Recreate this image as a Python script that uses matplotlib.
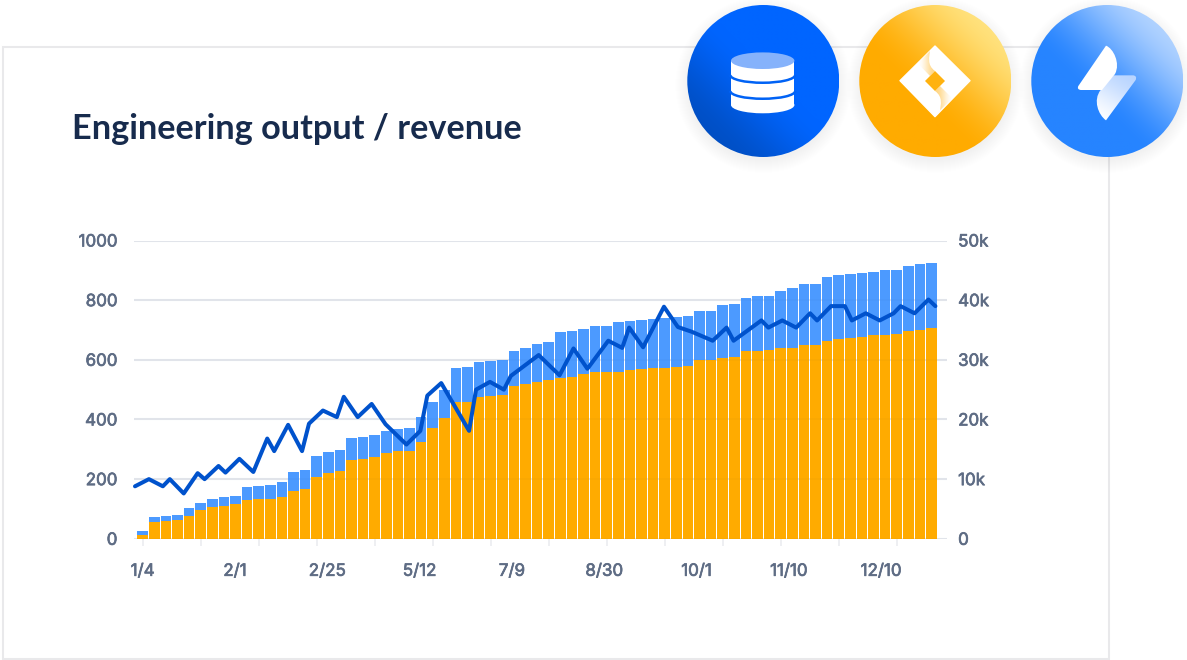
import numpy as np
import matplotlib
matplotlib.use('Agg')
import matplotlib.pyplot as plt
import matplotlib.patheffects as pe
from matplotlib.patches import Circle, Ellipse, Arc, PathPatch, Polygon, Rectangle
from matplotlib.path import Path
from matplotlib.colors import to_rgb

# Bars, one per week: orange part and top of the stack
orange_values = [13, 56, 60, 64, 77, 95, 108, 111, 115, 129, 133, 135, 140, 160, 167, 208, 222, 227, 265, 268,
                 273, 289, 293, 294, 323, 370, 406, 459, 459, 476, 480, 481, 511, 519, 526, 532, 540, 544, 553, 558,
                 560, 560, 565, 568, 571, 574, 577, 578, 598, 599, 606, 610, 628, 631, 632, 641, 641, 649, 651, 662,
                 669, 672, 676, 682, 684, 687, 695, 701, 706]
total_values = [25, 72, 78, 81, 103, 120, 135, 140, 144, 175, 178, 181, 190, 225, 231, 278, 292, 299, 339, 342,
                348, 362, 368, 372, 409, 457, 500, 571, 577, 594, 597, 601, 630, 639, 654, 660, 692, 695, 703, 712,
                715, 728, 730, 733, 737, 739, 743, 746, 763, 765, 783, 786, 807, 813, 815, 832, 841, 853, 854, 877,
                885, 889, 892, 895, 900, 902, 914, 920, 923]

# Revenue line (right axis, in k)
line_steps = [0, 2, 4, 5, 7, 9, 10, 12, 13, 15, 17, 19, 20, 22, 24, 25, 27, 29, 30, 32, 34, 36, 39, 41, 42, 44,
              48, 49, 51, 53, 54, 58, 61, 63, 65, 68, 70, 71, 73, 76, 78, 80, 83, 85, 86, 90, 91, 93, 95, 97, 98,
              100, 102, 103, 105, 107, 109, 110, 112, 114, 115]
revenue_values = [8.8, 10.0, 8.8, 10.0, 7.6, 11.0, 10.0, 12.2, 11.1, 13.4, 11.2, 16.8, 14.7, 19.1, 14.7, 19.3,
                  21.5, 20.4, 23.8, 20.4, 22.6, 19.2, 15.8, 18.1, 24.0, 26.1,
                  18.1, 25.0, 26.3, 25.0, 27.3, 30.8, 27.4, 31.9, 28.5, 33.2, 32.0, 35.4, 32.1, 38.9, 35.5, 34.7,
                  33.2, 35.4, 33.2, 36.6, 35.4, 36.6, 35.4, 37.8, 36.6, 39.0, 39.0, 36.6, 37.8, 36.6, 37.8, 39.0,
                  37.8, 40.1, 39.0]

date_labels = ['1/4', '2/1', '2/25', '5/12', '7/9', '8/30', '10/1', '11/10', '12/10']
left_ticks = [0, 200, 400, 600, 800, 1000]
right_ticks = [0, 10, 20, 30, 40, 50]
right_labels = ['0', '10k', '20k', '30k', '40k', '50k']

W, H = 1187, 660
NAVY = '#172B4D'
GREY = '#5E6C84'

fig = plt.figure(figsize=(W / 100, H / 100), dpi=100, facecolor='white')

# Card behind the chart, drawn in pixel coordinates
back = fig.add_axes([0, 0, 1, 1], zorder=0)
back.set_xlim(0, W)
back.set_ylim(H, 0)
back.axis('off')
back.add_patch(Rectangle((2.7, 46.7), 1106.6, 612, fill=False, ec='#E9E9EB', lw=1.5))
back.text(72.5, 129, 'Engineering output / revenue', family='Lato', weight='bold', fontsize=24.7,
          color=NAVY, va='center', ha='left')

# Chart
L, R, T, B = 134, 947, 240.5, 538.8
ax = fig.add_axes([L / W, 1 - B / H, (R - L) / W, (B - T) / H], zorder=1)
ax.patch.set_alpha(0)
step_px = 6.96
first_x = (142.7 - 135) / step_px
bar_x = first_x + np.arange(len(orange_values)) * 5 / 3
# the date labels do not sit on the bars, they run on their own spacing
label_x = first_x + np.arange(len(date_labels)) * 92.3 / step_px
orange = np.array(orange_values)
total = np.array(total_values)
ax.bar(bar_x, orange, width=1.53, color='#FFAB00', linewidth=0)
ax.bar(bar_x, total - orange, bottom=orange, width=1.53, color='#4C9AFF', linewidth=0)
ax.set_xlim((L - 135) / step_px, (R - 135) / step_px)
ax.set_ylim(0, 1000)
ax.set_yticks(left_ticks)
ax.grid(axis='y', color='#E6E8EE', lw=1.5)
ax.set_axisbelow(True)
ax.hlines(left_ticks, *ax.get_xlim(), color='#091E42', alpha=0.02, lw=1.5, zorder=3)
ax.tick_params(axis='y', length=0, pad=12, labelsize=12.2, labelcolor=GREY, labelfontfamily='Inter')

ax.xaxis.remove_overlapping_locs = False
ax.set_xticks(bar_x[::5])
ax.set_xticklabels([])
ax.set_xticks(label_x, labels=date_labels, minor=True)
ax.tick_params(axis='x', which='major', length=5, width=1.2, color='#EBECF0')
ax.tick_params(axis='x', which='minor', length=0, pad=18, labelsize=12.2, labelcolor=GREY, labelfontfamily='Inter')
for s in ax.spines.values():
    s.set_visible(False)

ax2 = ax.twinx()
ax2.patch.set_alpha(0)
ax2.plot(line_steps, revenue_values, color='#0052CC', lw=2.9, solid_joinstyle='round', solid_capstyle='round',
         clip_on=False)
ax2.set_ylim(0, 50)
ax2.set_yticks(right_ticks, labels=right_labels)
ax2.tick_params(axis='y', length=0, pad=8, labelsize=12.2, labelcolor=GREY, labelfontfamily='Inter')
for s in ax2.spines.values():
    s.set_visible(False)

# tick labels look semibold in the original, Inter only comes in regular here
heavier = [pe.withStroke(linewidth=0.5, foreground=GREY)]
for lab in ax.get_yticklabels() + ax.get_xticklabels(minor=True) + ax2.get_yticklabels():
    lab.set_path_effects(heavier)

# Icons on top, again in pixels
top = fig.add_axes([0, 0, 1, 1], zorder=2)
top.set_xlim(0, W)
top.set_ylim(H, 0)
top.axis('off')
top.patch.set_alpha(0)


def gradient(patch, box, c0, c1, a0=1.0, a1=1.0, angle=45, start=0.0, stop=1.0, zorder=3):
    # linear gradient in box (x0, x1, y0, y1), clipped to patch
    x0, x1, y0, y1 = box
    yy, xx = np.mgrid[0:1:160j, 0:1:160j]
    d = np.array([np.cos(np.radians(angle)), np.sin(np.radians(angle))])
    t = xx * d[0] + (1 - yy) * d[1]
    t = (t - t.min()) / (t.max() - t.min())
    t = np.clip((t - start) / (stop - start), 0, 1)
    t = t * t * (3 - 2 * t)
    rgba = np.zeros((160, 160, 4))
    for i in range(3):
        rgba[..., i] = to_rgb(c0)[i] * (1 - t) + to_rgb(c1)[i] * t
    rgba[..., 3] = a0 * (1 - t) + a1 * t
    patch.set(fc='none', ec='none')
    top.add_patch(patch)
    im = top.imshow(rgba, extent=(x0, x1, y1, y0), zorder=zorder, interpolation='bilinear', aspect='auto')
    im.set_clip_path(patch)


def badge(cx, cy, r, c0, c1, start, stop):
    for k in range(14):
        top.add_patch(Circle((cx, cy + 4), r + 12 - k, fc='#091E42', ec='none', alpha=0.004, zorder=2))
    gradient(Circle((cx, cy), r), (cx - r, cx + r, cy - r, cy + r), c0, c1, start=start, stop=stop)


def z(x, y):
    # position
    return 680 + x / 3, y / 3


def zd(x, y):
    # position
    return 890 + x / 3, 35 + y / 3


R_ICON = 76
c1, c2, c3 = (763.3, 81), (935.3, 81), (1107.3, 81)
badge(*c1, R_ICON, '#004FC4', '#0065FF', 0.12, 0.55)
badge(*c2, R_ICON, '#FFAB00', '#FFE380', 0.38, 0.9)
badge(*c3, R_ICON, '#2684FF', '#B3D4FF', 0.38, 0.9)

# database
cx = 762.7
top.add_patch(Rectangle((cx - 31.7, 60.7), 63.4, 44.5, fc='white', ec='none', zorder=4))
top.add_patch(Ellipse((cx, 105), 63.4, 16.6, fc='white', ec='none', zorder=4))
for yc in (75, 91):
    top.add_patch(Arc((cx, yc), 65, 15.5, theta1=0, theta2=180, ec='#0062F5', lw=1.8, zorder=5))
top.add_patch(Ellipse((cx, 60.7), 63.4, 16.6, fc='#85B2FB', ec='none', zorder=6))

# diamond
top.add_patch(Polygon([zd(135, 33), zd(240, 137), zd(135, 245), zd(30, 137)], closed=True, fc='white', ec='white',
                      lw=1, joinstyle='round', zorder=4))
pts = [zd(120, 48), zd(83, 85), zd(120, 123), zd(135, 108), zd(110, 90), zd(118, 65), zd(120, 48)]
codes = [Path.MOVETO, Path.LINETO, Path.LINETO, Path.LINETO, Path.CURVE4, Path.CURVE4, Path.CURVE4]
gradient(PathPatch(Path(pts, codes)), (zd(83, 0)[0], zd(135, 0)[0], 45, 78), '#FFB31A', '#FFB31A', 0.0, 0.55,
         angle=0, zorder=5)
pts = [zd(150, 226), zd(187, 190), zd(150, 153), zd(135, 168), zd(160, 186), zd(152, 210), zd(150, 226)]
gradient(PathPatch(Path(pts, codes)), (zd(135, 0)[0], zd(187, 0)[0], 85, 112), '#FFB31A', '#FFB31A', 0.55, 0.0,
         angle=0, zorder=5)
top.add_patch(Polygon([zd(135, 108), zd(165, 138), zd(135, 168), zd(105, 138)], closed=True, fc='#FFB20F', ec='none',
                      zorder=6))

# bolt
pts = [z(1278, 137), z(1300, 145), z(1322, 190), z(1305, 222), z(1266, 270), z(1202, 270), z(1190, 268),
       z(1195, 258), z(1278, 137)]
codes = [Path.MOVETO, Path.CURVE4, Path.CURVE4, Path.CURVE4, Path.LINETO, Path.LINETO, Path.CURVE3, Path.CURVE3,
         Path.CLOSEPOLY]
top.add_patch(PathPatch(Path(pts, codes), fc='white', ec='none', zorder=5))
pts = [z(1300, 226), z(1360, 226), z(1372, 228), z(1367, 240), z(1278, 361), z(1255, 345), z(1238, 300), z(1262, 270),
       z(1300, 226)]
codes = [Path.MOVETO, Path.LINETO, Path.CURVE3, Path.CURVE3, Path.LINETO, Path.CURVE4, Path.CURVE4, Path.CURVE4,
         Path.CLOSEPOLY]
gradient(PathPatch(Path(pts, codes)), (z(1240, 0)[0], z(1372, 0)[0], 75, 121), '#FFFFFF', '#B9D5FF', angle=60, zorder=4)

top.set_xlim(0, W)
top.set_ylim(H, 0)

fig.savefig('out.png', dpi=100)
